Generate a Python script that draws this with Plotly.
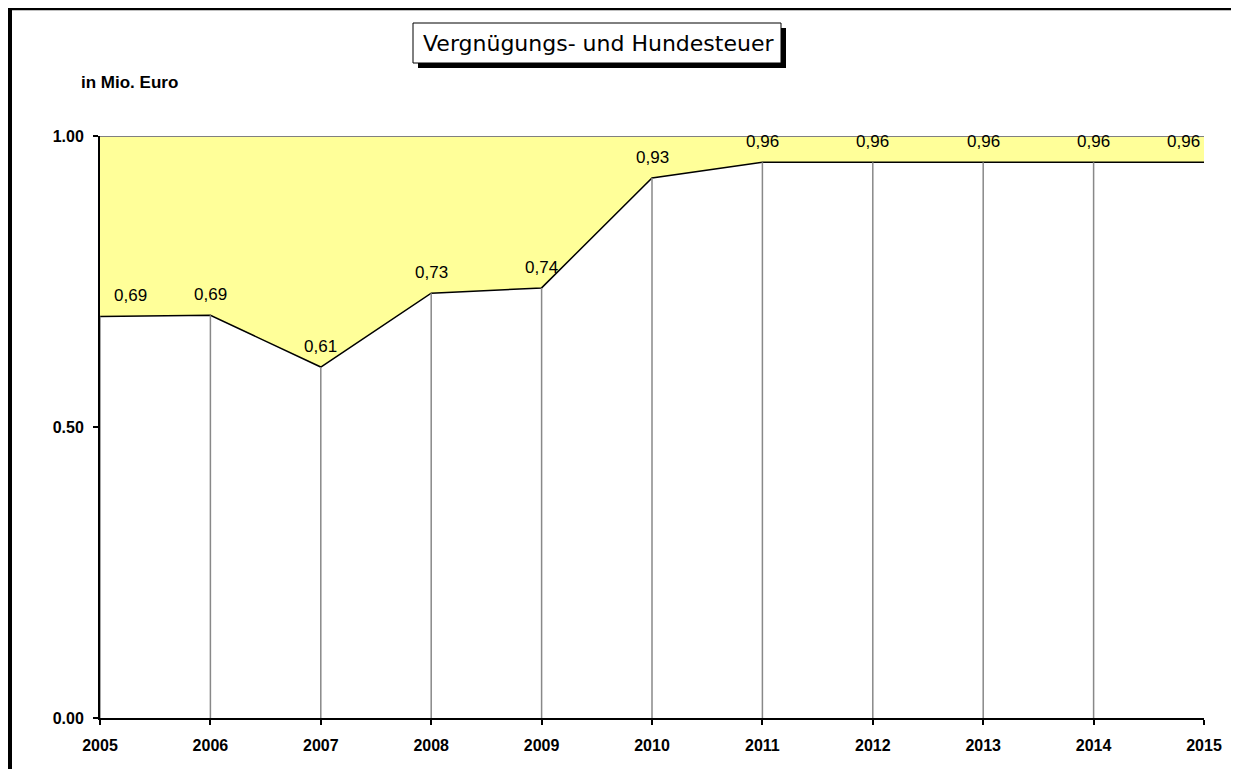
import plotly.graph_objects as go

years = [2005, 2006, 2007, 2008, 2009, 2010, 2011, 2012, 2013, 2014, 2015]
values = [0.69, 0.692, 0.603, 0.730, 0.739, 0.928, 0.955, 0.955, 0.955, 0.955, 0.955]
labels = ["0,69", "0,69", "0,61", "0,73", "0,74", "0,93", "0,96", "0,96", "0,96", "0,96", "0,96"]
y_ticks = [0, 0.5, 1.0]
y_ticktext = ["0.00", "0.50", "1.00"]
title_text = "Vergnügungs- und Hundesteuer"
unit_text = "in Mio. Euro"

OFF = 8  # page body margin
W, H = 1239 - OFF, 769 - OFF
L, R, T, B = 100 - OFF, 35, 136 - OFF, 51
PW, PH = W - L - R, H - T - B


def px(x):
    return (x - OFF - L) / PW


def py(y):
    return (H - B - (y - OFF)) / PH


fig = go.Figure()

# top reference line at 1.00
fig.add_trace(go.Scatter(x=years, y=[y_ticks[-1]] * len(years), mode="lines",
                         line=dict(color="#808080", width=2), hoverinfo="skip",
                         showlegend=False, cliponaxis=False))
# values with yellow fill up to 1.00
fig.add_trace(go.Scatter(x=years, y=values, mode="lines", fill="tonexty",
                         fillcolor="#FFFF99", line=dict(color="black", width=1.5),
                         showlegend=False, cliponaxis=False))
# drop lines (none at the last category)
dx, dy = [], []
for yr, v in zip(years[:-1], values[:-1]):
    dx += [yr, yr, None]
    dy += [0, v, None]
fig.add_trace(go.Scatter(x=dx, y=dy, mode="lines", line=dict(color="#888888", width=1.5),
                         hoverinfo="skip", showlegend=False))

# data labels
n = len(years)
for i, (yr, v, lab) in enumerate(zip(years, values, labels)):
    xanchor = "center"
    xshift = 0
    if i == 0:
        xanchor, xshift = "left", 12
    elif i == n - 1:
        xanchor, xshift = "right", -2
    fig.add_annotation(x=yr, y=v, text=lab, showarrow=False, xanchor=xanchor,
                       yanchor="bottom", yshift=9, xshift=xshift,
                       font=dict(family="Liberation Sans, Arial", size=17, color="black"))

# title box with shadow
fig.add_shape(type="rect", xref="paper", yref="paper",
              x0=px(418), x1=px(786), y0=py(68), y1=py(28),
              fillcolor="black", line=dict(width=0), layer="above")
fig.add_shape(type="rect", xref="paper", yref="paper",
              x0=px(413), x1=px(781), y0=py(63), y1=py(23),
              fillcolor="white", line=dict(color="black", width=1), layer="above")
fig.add_annotation(xref="paper", yref="paper", x=px(598), y=py(44), text=title_text,
                   showarrow=False, xanchor="center", yanchor="middle",
                   font=dict(family="DejaVu Sans", size=22, color="black"))

fig.add_annotation(xref="paper", yref="paper", x=px(79), y=py(82), text="<b>" + unit_text + "</b>",
                   showarrow=False, xanchor="left", yanchor="middle",
                   font=dict(family="Liberation Sans, Arial", size=17, color="black"))

# outer frame
fig.add_shape(type="line", xref="paper", yref="paper", x0=px(8), x1=px(1237), y0=py(8.5), y1=py(8.5),
              line=dict(color="black", width=3.5), layer="above")
fig.add_shape(type="line", xref="paper", yref="paper", x0=px(10), x1=px(10), y0=py(7), y1=py(775),
              line=dict(color="black", width=4), layer="above")
fig.add_shape(type="line", xref="paper", yref="paper", x0=px(1236), x1=px(1236), y0=py(7), y1=py(775),
              line=dict(color="black", width=2), layer="above")

fig.update_layout(
    width=W, height=H,
    margin=dict(l=L, r=R, t=T, b=B),
    paper_bgcolor="white", plot_bgcolor="white",
    showlegend=False,
    font=dict(family="Liberation Sans, Arial", color="black"),
)
fig.update_xaxes(range=[years[0], years[-1]], tickvals=years, ticktext=[str(y) for y in years],
                 showgrid=False, zeroline=False, showline=True, linecolor="black", linewidth=2,
                 ticks="outside", ticklen=5, tickcolor="black", tickwidth=1.5,
                 ticklabelstandoff=7,
                 tickfont=dict(family="Liberation Sans, Arial", size=16, color="black", weight="bold"))
fig.update_yaxes(range=[0, 1], tickvals=y_ticks, ticktext=y_ticktext,
                 showgrid=False, zeroline=False, showline=True, linecolor="black", linewidth=2,
                 ticks="outside", ticklen=5, tickcolor="black", tickwidth=1.5,
                 ticklabelstandoff=6,
                 tickfont=dict(family="Liberation Sans, Arial", size=16, color="black", weight="bold"))

fig.write_html("out.html")
